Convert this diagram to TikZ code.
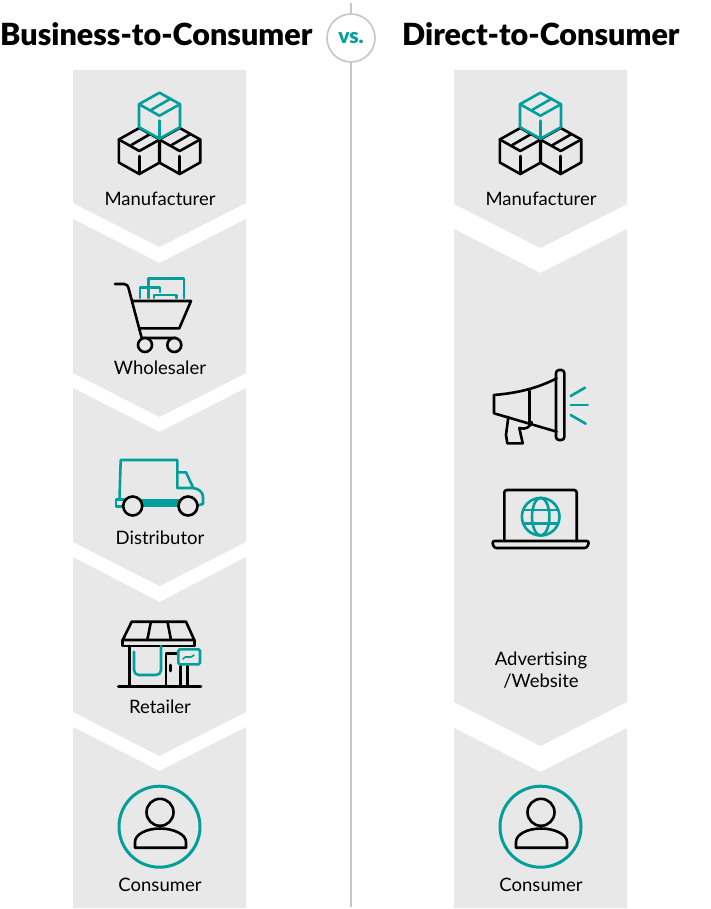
\documentclass[tikz,border=0pt]{standalone}
\usepackage{fontspec}
\setmainfont{Lato}[BoldFont={Lato Black}]
\usepackage{tikz}
\usetikzlibrary{arrows.meta, positioning}
\definecolor{panelgray}{HTML}{E8E8E8}
\definecolor{icongreen}{HTML}{009F9B}
\definecolor{rulegray}{HTML}{C8C8C8}
\tikzset{
	panel/.style={fill=panelgray, draw=none},
	blackline/.style={draw=black, line width=2.6pt, line join=round, line cap=round},
	greenline/.style={draw=icongreen, line width=2.6pt, line join=round, line cap=round},
	steplabel/.style={font=\fontsize{18.5}{22}\selectfont, text=black, align=center, inner sep=0pt},
	headlabel/.style={font=\fontsize{30.5}{32}\selectfont\bfseries, text=black, inner sep=0pt},
}
% one small carton, (0,0) is its top corner
\newcommand{\cartonicon}[1]{
	\draw[#1] (0,0) -- (20.5,11.5) -- (20.5,34.5) -- (0,46) -- (-20.5,34.5) -- (-20.5,11.5) -- cycle;
	\draw[#1] (-20.5,11.5) -- (0,23) -- (20.5,11.5);
	\draw[#1] (0,28) -- (0,46);
	\draw[#1] (-8,17) -- (11,6);
}
\newcommand{\boxesicon}[1]{
	\begin{scope}[xshift=#1]
		\begin{scope}[xshift=139.3pt, yshift=-128pt]
			\cartonicon{blackline}
		\end{scope}
		\begin{scope}[xshift=179.7pt, yshift=-128pt]
			\cartonicon{blackline}
		\end{scope}
		\begin{scope}[xshift=159.5pt, yshift=-92.7pt]
			\fill[panelgray] (0,0) -- (20.5,11.5) -- (20.5,34.5) -- (0,46) -- (-20.5,34.5) -- (-20.5,11.5) -- cycle;
			\cartonicon{greenline}
		\end{scope}
	\end{scope}
}
\newcommand{\personicon}[1]{
	\begin{scope}[xshift=#1]
		\draw[greenline, line width=3pt] (159.5,826.7) circle (40.5);
		\draw[blackline] (160,812.3) circle (13.5);
		\draw[blackline] (135,847.7) -- (135,842) .. controls (135,834) and (147,828.5) .. (160,828.5) .. controls (173,828.5) and (186,834) .. (186,842) -- (186,847.7) -- cycle;
	\end{scope}
}

\begin{document}
\begin{tikzpicture}[x=1pt, y=-1pt]
	\useasboundingbox (0,0) rectangle (710,909);

	% Draw the left column
	\fill[panel] (73,70) -- (246,70) -- (246,203) -- (159.5,247) -- (73,203) -- cycle;
	\fill[panel] (73,219) -- (159.5,263) -- (246,219) -- (246,373) -- (159.5,417) -- (73,373) -- cycle;
	\fill[panel] (73,388) -- (159.5,432) -- (246,388) -- (246,542) -- (159.5,586) -- (73,542) -- cycle;
	\fill[panel] (73,557) -- (159.5,602) -- (246,557) -- (246,712) -- (159.5,756) -- (73,712) -- cycle;
	\fill[panel] (73,727) -- (159.5,771) -- (246,727) -- (246,908) -- (73,908) -- cycle;

	% Draw the right column
	\fill[panel] (454,70) -- (627,70) -- (627,204) -- (540.5,248) -- (454,204) -- cycle;
	\fill[panel] (454,229) -- (540.5,273) -- (627,229) -- (627,702) -- (540.5,746) -- (454,702) -- cycle;
	\fill[panel] (454,728) -- (540.5,772) -- (627,728) -- (627,908) -- (454,908) -- cycle;

	% the middle rule
	\draw[rulegray, line width=1.7pt] (351,3) -- (351,907);
	\node[circle, draw=rulegray, fill=white, line width=1.7pt, minimum size=48pt, inner sep=0pt] (versus) at (351,38) {};
	\node[font=\fontsize{21}{21}\selectfont\bfseries, text=icongreen, inner sep=0pt] (vs) at (351,38) {vs.};

	\node[headlabel, anchor=base west] (b2c) at (0,46) {Business-to-Consumer};
	\node[headlabel, anchor=base west] (d2c) at (402,46) {Direct-to-Consumer};

	\boxesicon{0pt}
	\boxesicon{381pt}
	\personicon{0pt}
	\personicon{381pt}

	% cart
	\draw[blackline] (115,284) -- (124,284) .. controls (127,284) and (128,286) .. (128.5,288) -- (141.7,338) -- (176,338);
	\draw[blackline] (132.7,301) -- (191,301) -- (179.3,328.3) -- (139.3,328.3);
	\draw[blackline, fill=panelgray] (145,345) circle (7);
	\draw[blackline, fill=panelgray] (174.3,345) circle (7);
	\draw[greenline] (148.3,298) -- (148.3,278.3) -- (184,278.3) -- (184,298);
	\draw[greenline] (140,298) -- (140,287.3) -- (160,287.3) -- (160,292);
	\draw[greenline] (154,298) -- (154,295) -- (176.7,295) -- (176.7,298);

	% truck
	\draw[greenline] (119.5,499) -- (120.7,460) -- (177.3,460) -- (177.3,488) -- (193.3,488) -- (186,472.3) -- (177.3,472.3);
	\draw[greenline] (193.3,488) .. controls (199,489) and (203,492) .. (203,497) -- (203,504) -- (197,505.5);
	\draw[greenline] (124,499.5) -- (116,499.5) -- (116,506.5) -- (124,506.5);
	\draw[greenline, fill=icongreen] (140,500) rectangle (180,505.5);
	\draw[blackline, fill=panelgray] (132.7,506) circle (9.5);
	\draw[blackline, fill=panelgray] (188,506) circle (9.5);

	% shop
	\draw[blackline] (131.7,621.7) -- (186,621.7) -- (194.3,640) -- (122.7,640) -- cycle;
	\draw[blackline] (122.7,640) -- (122.7,646) -- (194.3,646) -- (194.3,640);
	\draw[blackline] (150.7,622.7) -- (147.3,640);
	\draw[blackline] (167.7,622.7) -- (171,640);
	\draw[blackline] (129.3,646) -- (129.3,686.7);
	\draw[blackline] (118.3,686.7) -- (201,686.7);
	\draw[blackline] (166,686.7) -- (166,653.3) -- (178,653.3);
	\draw[blackline] (180.7,666) -- (180.7,686.7);
	\draw[blackline] (187.7,666) -- (187.7,686.7);
	\draw[blackline] (170.7,665) -- (170.7,671);
	\draw[greenline] (134,651.7) -- (134,670) .. controls (134,673) and (136,675) .. (139,675) -- (156,675) .. controls (159,675) and (161,673) .. (161,670) -- (161,646);
	\draw[greenline, fill=panelgray, rounded corners=1.5pt] (178.3,649.3) rectangle (200,664.3);
	\draw[greenline, line width=1.6pt] (183,659) .. controls (186,654) and (189,660) .. (194,655);

	% megaphone
	\draw[blackline] (494,395) .. controls (518,393) and (538,388) .. (556.7,378.3);
	\draw[blackline] (494,395) -- (494,413.3) -- (556.7,431.7);
	\draw[blackline] (529.3,390.7) -- (529.3,423);
	\draw[blackline] (508.3,417) -- (506,435) -- (507.3,443.3) -- (522.7,443.3) -- (519.3,428) .. controls (526,430) and (530,427) .. (531.7,422);
	\draw[blackline, rounded corners=3pt] (556,370) rectangle (564.3,440);
	\draw[greenline] (570.7,396) -- (585,387.7);
	\draw[greenline] (570.7,405) -- (587.7,405);
	\draw[greenline] (570.7,415) -- (585.7,423.7);

	% laptop
	\draw[blackline, rounded corners=2.5pt] (504.3,541) -- (504.3,490) -- (576.7,490) -- (576.7,541);
	\draw[blackline, rounded corners=2.5pt] (492,541) -- (589.3,541) -- (587,548) -- (494,548) -- cycle;
	\draw[greenline] (540.7,516.7) circle (18.8);
	\draw[greenline] (540.7,516.7) ellipse (8.7 and 18.8);
	\draw[greenline] (524.5,510) -- (557,510);
	\draw[greenline] (524.5,523.3) -- (557,523.3);

	% Draw the step names
	\node[steplabel] (maker1) at (160,199) {Manufacturer};
	\node[steplabel] (wholesaler) at (160,368) {Wholesaler};
	\node[steplabel] (distributor) at (160,538) {Distributor};
	\node[steplabel] (retailer) at (160,707) {Retailer};
	\node[steplabel] (buyer1) at (160,885) {Consumer};
	\node[steplabel] (maker2) at (541,199) {Manufacturer};
	\node[steplabel] (adweb) at (541,670) {Advertising\\/Website};
	\node[steplabel] (buyer2) at (541,885) {Consumer};
\end{tikzpicture}
\end{document}
